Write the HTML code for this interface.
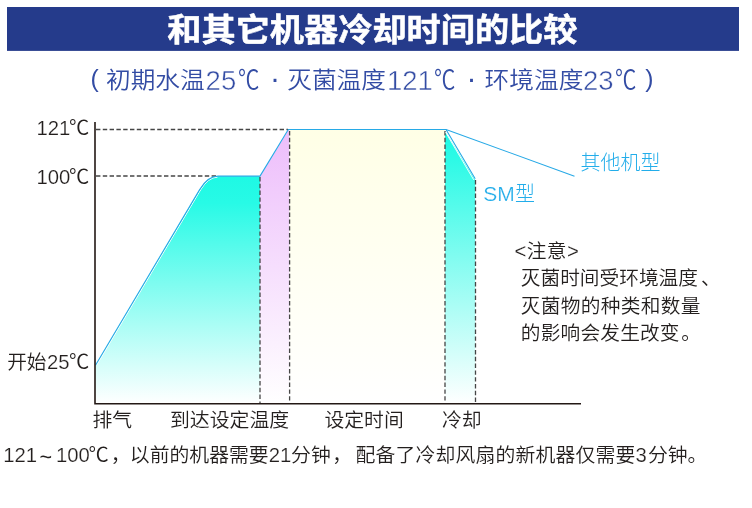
<!DOCTYPE html>
<html lang="zh-CN">
<head>
<meta charset="utf-8">
<title>和其它机器冷却时间的比较</title>
<style>
html,body{margin:0;padding:0;background:#fff;}
body{width:752px;height:508px;overflow:hidden;position:relative;}
svg{position:absolute;left:0;top:0;display:block;}
text{font-family:"Liberation Sans","Noto Sans CJK SC",sans-serif;}
.t text{fill:#231f1e;font-size:19.7px;font-weight:350;}
.b text{fill:#22adea;font-size:19.95px;font-weight:300;}
.t.x text{font-size:19.85px;}
.t.x text.n{font-size:20.3px;}
.t.x text.c{font-size:20.3px;}
.b .n{font-size:21px !important;}
.t .n,.b .n{font-size:20.3px;font-weight:400;stroke:#fff;stroke-width:0.2px;}
.t .c{font-size:20.3px;}
.title{fill:#fff;font-size:34.2px;font-weight:700;stroke:#fff;stroke-width:0.55px;stroke-linejoin:round;}
.sub text{fill:#334ca4;font-size:24.7px;font-weight:350;}
.sub .n{font-size:27.5px;font-weight:400;stroke:#fff;stroke-width:0.5px;}
.sub .c{font-size:25.8px;}
.sub .d{font-size:30px;font-weight:400;}
.c{font-family:"Noto Sans CJK SC","Liberation Sans",sans-serif;font-weight:300;}
.sub .c{font-weight:350;}
</style>
</head>
<body>
<svg width="752" height="508" viewBox="0 0 752 508">
  <defs>
    <linearGradient id="gT" gradientUnits="userSpaceOnUse" x1="0" y1="176" x2="0" y2="404">
      <stop offset="0" stop-color="#1ef9e4"/>
      <stop offset="0.12" stop-color="#28fae6"/>
      <stop offset="1" stop-color="#ffffff"/>
    </linearGradient>
    <linearGradient id="gP" gradientUnits="userSpaceOnUse" x1="0" y1="130" x2="0" y2="404">
      <stop offset="0" stop-color="#edbdfb"/>
      <stop offset="1" stop-color="#ffffff"/>
    </linearGradient>
    <linearGradient id="gY" gradientUnits="userSpaceOnUse" x1="0" y1="130" x2="0" y2="404">
      <stop offset="0" stop-color="#ffffe6"/>
      <stop offset="1" stop-color="#ffffff"/>
    </linearGradient>
    <linearGradient id="gC" gradientUnits="userSpaceOnUse" x1="0" y1="131" x2="0" y2="404">
      <stop offset="0" stop-color="#1ef9e4"/>
      <stop offset="0.1" stop-color="#2cfae6"/>
      <stop offset="1" stop-color="#ffffff"/>
    </linearGradient>
  </defs>

  <!-- header bar -->
  <rect x="7" y="7" width="732" height="43.9" fill="#253b8b"/>
  <text class="title" transform="scale(1,0.94)" x="372.4" y="43.55" text-anchor="middle">和其它机器冷却时间的比较</text>

  <!-- subtitle -->
  <g class="sub">
    <text id="s1" x="90.4" y="86.6">(</text>
    <text id="s2" transform="scale(1,0.93)" x="106" y="94.9">初期水温</text>
    <text id="s3" class="n" x="205.6" y="89.8">25</text>
    <text id="s4" class="c" x="238" y="89" textLength="21.4" lengthAdjust="spacingAndGlyphs">℃</text>
    <text id="s5" class="d" x="270" y="88">·</text>
    <text id="s6" transform="scale(1,0.93)" x="287.2" y="94.9">灭菌温度</text>
    <text id="s7" class="n" x="386.9" y="89.8">121</text>
    <text id="s8" class="c" x="434" y="89" textLength="21.4" lengthAdjust="spacingAndGlyphs">℃</text>
    <text id="s9" class="d" x="466.6" y="88">·</text>
    <text id="s10" transform="scale(1,0.93)" x="484.6" y="94.9">环境温度</text>
    <text id="s11" class="n" x="582.9" y="89.8">23</text>
    <text id="s12" class="c" x="615" y="89" textLength="21.4" lengthAdjust="spacingAndGlyphs">℃</text>
    <text id="s13" x="645.3" y="86.6">)</text>
  </g>

  <!-- fills -->
  <path d="M95.5 365.2 L199.5 189.9 Q207.6 176.3 218 176.3 L260 176.3 L260 403.5 L95.5 403.5 Z" fill="url(#gT)"/>
  <path d="M260 176.3 L288.5 130 L289.5 130 L289.5 403.5 L260 403.5 Z" fill="url(#gP)"/>
  <rect x="289.5" y="130" width="155.5" height="273.5" fill="url(#gY)"/>
  <path d="M445 131 L475.2 180 L475.2 403.5 L445 403.5 Z" fill="url(#gC)"/>

  <!-- dashed guides -->
  <g stroke="#454545" stroke-width="1.3" stroke-dasharray="4.4 2.4" fill="none">
    <path d="M96 129.5 H288"/>
    <path d="M96 176 H216"/>
    <path d="M260 177 V403"/>
    <path d="M289.6 131 V403"/>
    <path d="M445 131 V403"/>
    <path d="M475.5 180 V403"/>
  </g>

  <!-- highlight between line and fill -->
  <path d="M96.6 365.2 L200.6 189.9 Q208.3 177.3 217.5 177.1" stroke="#ffffff" stroke-width="1" fill="none"/>
  <path d="M446.6 131.5 L474.8 179.2" stroke="#ffffff" stroke-width="0.9" fill="none" transform="translate(-1.1,0.6)"/>

  <!-- curves -->
  <g stroke="#27a9e6" stroke-width="1.1" fill="none" stroke-linejoin="round">
    <path d="M95.5 365.2 L199.5 189.9 Q207.6 176.1 218 176.1 L260 176.1 L288.3 129.5 L446 129.5 L475.2 178.8"/>
    <path d="M446 129.5 L574.5 176.2"/>
  </g>

  <!-- axes -->
  <path d="M95 122 V403.75 H581" stroke="#231815" stroke-width="1.6" fill="none"/>

  <!-- y labels -->
  <g class="t">
    <text id="y1" class="n" x="36.5" y="134.8">121</text>
    <text id="y1c" class="c" x="68.9" y="134.6">℃</text>
    <text id="y2" class="n" x="36.5" y="183.7">100</text>
    <text id="y2c" class="c" x="68.9" y="183.5">℃</text>
    <text id="y3" x="7.2" y="368.6">开始</text>
    <text id="y3n" class="n" x="46.9" y="369.2">25</text>
    <text id="y3c" class="c" x="69" y="369">℃</text>
  </g>

  <!-- x labels -->
  <g class="t x">
    <text id="x1" x="92.4" y="427.2">排气</text>
    <text id="x2" x="170" y="427.2">到达设定温度</text>
    <text id="x3" x="324.4" y="427.2">设定时间</text>
    <text id="x4" x="442" y="427.2">冷却</text>
  </g>

  <!-- legend labels -->
  <g class="b">
    <text id="l1" class="n" x="483.2" y="200.7">SM</text>
    <text id="l1b" x="514.9" y="201.2">型</text>
    <text id="l2" x="580.6" y="170.2">其他机型</text>
  </g>

  <!-- note -->
  <g class="t">
    <text id="n0" x="514.6" y="257.5" letter-spacing="0.35"><tspan class="n">&lt;</tspan>注意<tspan class="n">&gt;</tspan></text>
    <text id="n1" x="520.8" y="285.4">灭菌时间受环境温度<tspan dx="3">、</tspan></text>
    <text id="n2" x="520.8" y="313.4" letter-spacing="0.32">灭菌物的种类和数量</text>
    <text id="n3" x="520.8" y="340" letter-spacing="0.18">的影响会发生改变<tspan dx="1.5">。</tspan></text>
  </g>

  <!-- bottom caption -->
  <g class="t x">
    <text id="b1" class="n" x="3.2" y="462">121</text>
    <text id="b2" x="39.6" y="463.6" style="font-size:21.5px;font-weight:400">~</text>
    <text id="b3" class="n" x="55.9" y="462">100</text>
    <text id="b4" class="c" x="88.4" y="462">℃<tspan dx="2">，</tspan></text>
    <text id="b5" x="129.8" y="462">以前的机器需要</text>
    <text id="b6" class="n" x="268.8" y="462">21</text>
    <text id="b7" x="291.1" y="462">分钟<tspan dx="1.5">，</tspan></text>
    <text id="b8" x="355.5" y="462" letter-spacing="0.15">配备了冷却风扇的新机器仅需要</text>
    <text id="b9" class="n" x="635.4" y="462">3</text>
    <text id="b10" x="647.9" y="462">分钟。</text>
  </g>
</svg>
</body>
</html>
